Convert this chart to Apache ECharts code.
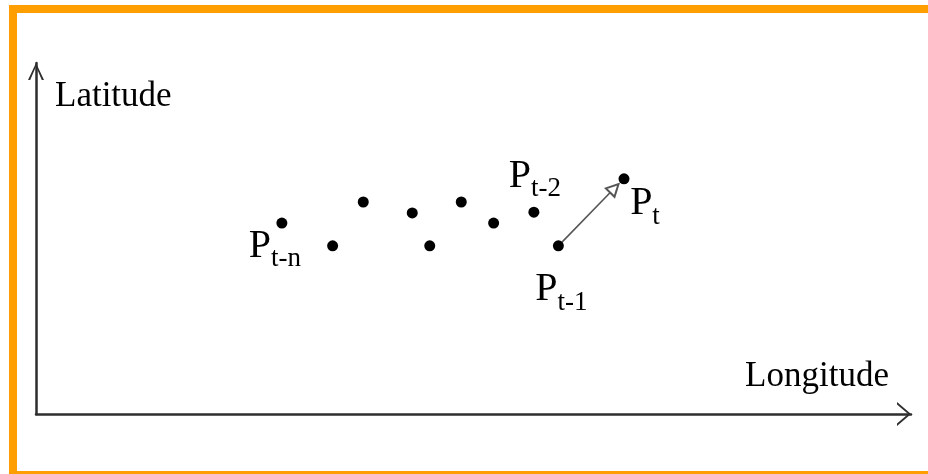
<!DOCTYPE html>
<html>
<head>
<meta charset="utf-8">
<script src="https://cdn.jsdelivr.net/npm/echarts@6/dist/echarts.min.js"></script>
<style>
html,body{margin:0;padding:0;background:#fff;}
#main{position:absolute;left:0;top:0;width:928px;height:474px;}
#frame{position:absolute;left:9px;top:5px;width:940px;height:458px;
  border-left:8px solid #ff9e00;border-top:8px solid #ff9e00;border-bottom:3px solid #ff9e00;
  pointer-events:none;}
</style>
</head>
<body>
<div id="main"></div>
<div id="frame"></div>
<script>
// 轨迹点（经度 / 纬度，0-100 的相对坐标）
var lon = [28.1, 33.9, 37.4, 43.0, 45.0, 48.6, 52.3, 56.9, 59.7, 67.2];
var lat = [54.4, 47.9, 60.4, 57.3, 47.9, 60.4, 54.4, 57.5, 47.9, 67.0];
var subs = ['t-n', '', '', '', '', '', '', 't-2', 't-1', 't'];
// 移动方向箭头：从 P(t-1) 指向 P(t)
var arrowFrom = 8;
var arrowEnd = [66.1, 64.3];

// 标签相对点的偏移（像素）
var labelOffset = {
	't-n': [-7, 23],
	't-2': [1, -36],
	't-1': [3, 44],
	't': [21, 25]
};

var serif = 'Liberation Serif';

var myChart = echarts.init(document.getElementById('main'));

var pts = [];
for (var i = 0; i < lon.length; i++) {
	var item = { value: [lon[i], lat[i]] };
	if (subs[i]) {
		item.label = {
			show: true,
			position: 'inside',
			offset: labelOffset[subs[i]],
			formatter: '{p|P}{s|' + subs[i] + '}'
		};
	}
	pts.push(item);
}

var option = {
	backgroundColor: '#fff',
	animation: false,
	grid: { left: 36, right: 17, top: 63, bottom: 60, containLabel: false, outerBoundsMode: 'none' },
	xAxis: {
		type: 'value', min: 0, max: 100,
		name: 'Longitude',
		nameLocation: 'end',
		nameGap: -94,
		nameTextStyle: {
			fontFamily: serif, fontSize: 35, color: '#000',
			align: 'center', verticalAlign: 'bottom', padding: [0, 0, 20, 0]
		},
		axisLine: {
			show: true,
			lineStyle: { color: '#2e2e2e', width: 2.5 },
			symbol: ['none', 'path://M0,14 L12,0 L24,14 L21.5,14 L12,2.8 L2.5,14 Z'],
			symbolSize: [24, 14],
			symbolOffset: [0, -7]
		},
		axisTick: { show: false },
		axisLabel: { show: false },
		splitLine: { show: false }
	},
	yAxis: {
		type: 'value', min: 0, max: 100,
		name: 'Latitude',
		nameLocation: 'end',
		nameGap: -34,
		nameTextStyle: {
			fontFamily: serif, fontSize: 35, color: '#000',
			align: 'left', verticalAlign: 'middle', padding: [0, 0, 0, 19]
		},
		axisLine: {
			show: true,
			lineStyle: { color: '#2e2e2e', width: 2.5 },
			symbol: ['none', 'path://M0,17 L8,0 L16,17 L13.8,17 L8,3.5 L2.2,17 Z'],
			symbolSize: [16, 17],
			symbolOffset: [0, -8.5]
		},
		axisTick: { show: false },
		axisLabel: { show: false },
		splitLine: { show: false }
	},
	series: [
		{
			name: 'arrow',
			type: 'lines',
			coordinateSystem: 'cartesian2d',
			symbol: ['none', 'emptyTriangle'],
			symbolSize: 12,
			lineStyle: { color: '#555', width: 1.6, opacity: 1 },
			data: [{ coords: [[lon[arrowFrom], lat[arrowFrom]], arrowEnd] }],
			z: 2
		},
		{
			name: 'track',
			type: 'scatter',
			symbolSize: 11,
			itemStyle: { color: '#000', opacity: 1 },
			label: {
				color: '#000',
				rich: {
					p: { fontFamily: serif, fontSize: 40, color: '#000' },
					s: { fontFamily: serif, fontSize: 27, color: '#000', padding: [26, 0, 0, 0] }
				}
			},
			data: pts,
			z: 3
		}
	]
};
myChart.setOption(option);
</script>
</body>
</html>
